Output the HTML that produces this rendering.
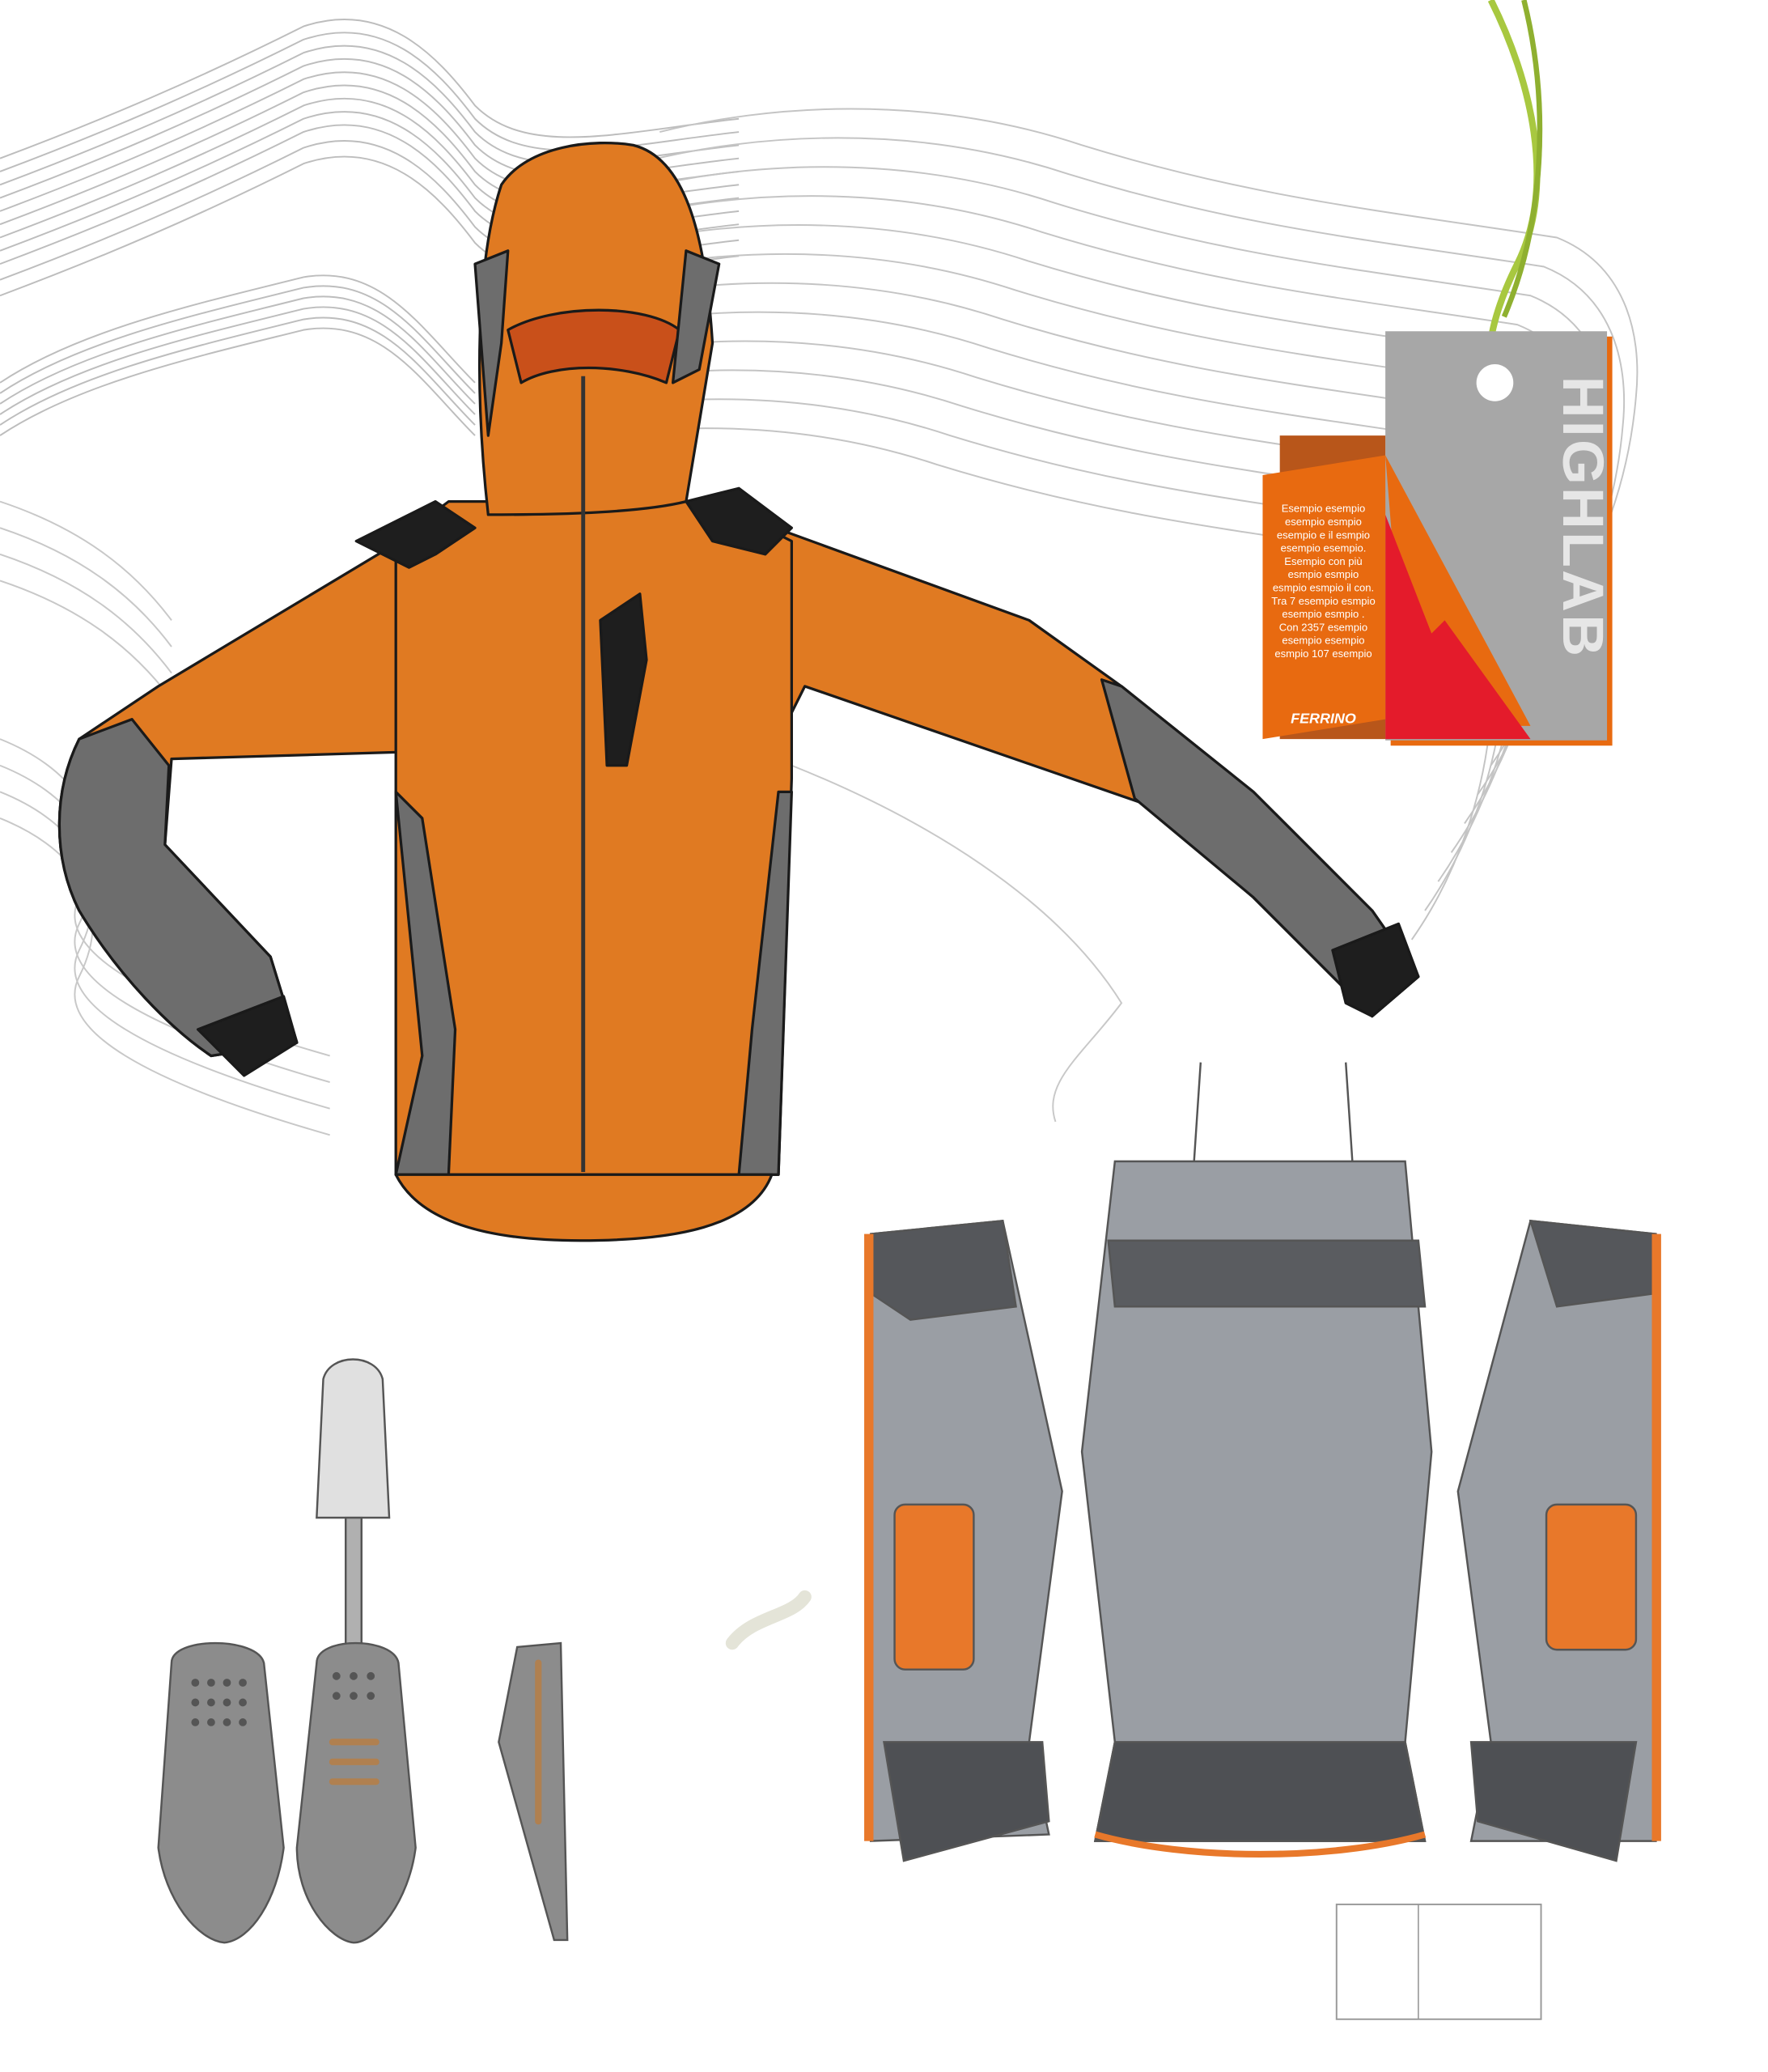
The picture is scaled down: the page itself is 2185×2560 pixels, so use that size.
<!DOCTYPE html>
<html><head><meta charset="utf-8"><style>html,body{margin:0;padding:0;background:#fff}svg{display:block}</style></head><body>
<svg width="2185" height="2560" viewBox="0 0 1340 1570" xmlns="http://www.w3.org/2000/svg" font-family="Liberation Sans, sans-serif">
<defs>
<path id="cl" d="M0,120 C80,90 150,60 230,20 C290,0 330,40 360,80 C400,120 470,100 560,90" fill="none" stroke="#bdbdbd" stroke-width="1.2"/>
<path id="cm" d="M0,290 C60,250 150,230 230,210 C290,200 320,250 360,290" fill="none" stroke="#bdbdbd" stroke-width="1.2"/>
<path id="cr" d="M500,100 C580,80 700,70 820,110 C950,150 1050,160 1180,180 C1230,200 1245,250 1240,300 C1235,360 1215,420 1180,470" fill="none" stroke="#c4c4c4" stroke-width="1.2"/>
<path id="cb" d="M0,380 C60,400 100,430 130,470 M0,560 C50,580 90,620 60,680 C40,720 110,760 250,800" fill="none" stroke="#c8c8c8" stroke-width="1.2"/>
</defs>
<g>
<use href="#cl"/><use href="#cl" transform="translate(0,10)"/><use href="#cl" transform="translate(0,20)"/><use href="#cl" transform="translate(0,30)"/><use href="#cl" transform="translate(0,40)"/><use href="#cl" transform="translate(0,50)"/><use href="#cl" transform="translate(0,60)"/><use href="#cl" transform="translate(0,70)"/><use href="#cl" transform="translate(0,80)"/><use href="#cl" transform="translate(0,92)"/><use href="#cl" transform="translate(0,104)"/>
<use href="#cm"/><use href="#cm" transform="translate(0,8)"/><use href="#cm" transform="translate(0,16)"/><use href="#cm" transform="translate(0,24)"/><use href="#cm" transform="translate(0,32)"/><use href="#cm" transform="translate(0,40)"/>
<use href="#cr"/><use href="#cr" transform="translate(-10,22)"/><use href="#cr" transform="translate(-20,44)"/><use href="#cr" transform="translate(-30,66)"/><use href="#cr" transform="translate(-40,88)"/><use href="#cr" transform="translate(-50,110)"/><use href="#cr" transform="translate(-60,132)"/><use href="#cr" transform="translate(-70,154)"/><use href="#cr" transform="translate(-80,176)"/><use href="#cr" transform="translate(-90,198)"/><use href="#cr" transform="translate(-100,220)"/><use href="#cr" transform="translate(-110,242)"/>
<use href="#cb"/><use href="#cb" transform="translate(0,20)"/><use href="#cb" transform="translate(0,40)"/><use href="#cb" transform="translate(0,60)"/>
<path d="M600,580 C700,620 800,680 850,760 C820,800 790,820 800,850" fill="none" stroke="#c8c8c8" stroke-width="1.2"/>
</g>
<!-- front jacket -->
<g stroke="#1a1a1a" stroke-width="2" stroke-linejoin="round">
<!-- left sleeve -->
<path d="M320,400 L120,520 L60,560 C40,600 40,650 60,690 C90,740 130,780 160,800 L225,790 L205,725 L125,640 L130,575 L300,570 Z" fill="#e07a22"/>
<path d="M100,545 L60,560 C40,600 40,650 60,690 C90,740 130,780 160,800 L225,790 L205,725 L125,640 L128,580 Z" fill="#6d6d6d"/>
<path d="M150,780 L215,755 L225,790 L185,815 Z" fill="#1e1e1e"/>
<!-- right sleeve -->
<path d="M560,390 L780,470 L850,520 L950,600 L1040,690 L1075,740 L1040,770 L990,720 L950,680 L870,610 L610,520 L600,540 Z" fill="#e07a22"/>
<path d="M835,515 L850,520 L950,600 L1040,690 L1075,740 L1040,770 L990,720 L950,680 L860,605 Z" fill="#6d6d6d"/>
<path d="M1010,720 L1060,700 L1075,740 L1040,770 L1020,760 Z" fill="#1e1e1e"/>
<!-- body -->
<path d="M340,380 L540,380 L600,410 L600,590 L590,890 L300,890 L300,570 L300,410 Z" fill="#e07a22"/>
<path d="M300,600 L320,800 L300,890 L340,890 L345,780 L320,620 Z M590,600 L570,780 L560,890 L590,890 L600,600 Z" fill="#6d6d6d"/>
<path d="M300,890 C320,930 380,940 440,940 C510,940 570,930 585,890 Z" fill="#e07a22"/>
<path d="M370,390 C360,300 360,200 380,140 C400,110 450,105 480,110 C520,120 535,180 540,260 L520,380 C480,390 400,390 370,390 Z" fill="#e07a22"/>
<path d="M385,250 C420,230 490,230 515,250 L505,290 C470,275 420,275 395,290 Z" fill="#c9501a"/>
<path d="M360,200 L385,190 L380,260 L370,330 Z M520,190 L545,200 L530,280 L510,290 Z" fill="#6d6d6d"/>
<path d="M270,410 L330,380 L360,400 L330,420 L310,430 Z M520,380 L560,370 L600,400 L580,420 L540,410 Z" fill="#1e1e1e"/>
<path d="M455,470 L485,450 L490,500 L475,580 L460,580 Z" fill="#1e1e1e"/>
</g>
<line x1="442" y1="285" x2="442" y2="888" stroke="#333" stroke-width="3"/>
<!-- hang tag -->
<path d="M1130,0 C1160,60 1180,140 1150,200 C1130,240 1125,270 1130,300" fill="none" stroke="#a8c840" stroke-width="5"/>
<path d="M1155,0 C1175,80 1170,170 1140,240" fill="none" stroke="#8fb030" stroke-width="4"/>
<rect x="1054" y="255" width="168" height="310" fill="#e86a10"/>
<rect x="1050" y="251" width="168" height="310" fill="#a7a7a7"/>
<circle cx="1133" cy="290" r="14" fill="#fff"/>
<path d="M1050,345 L1160,550 L1100,550 L1060,470 Z" fill="#e86a10"/>
<path d="M1050,390 L1085,480 L1095,470 L1160,560 L1050,560 Z" fill="#e41b2b"/>
<text transform="translate(1185,285) rotate(90)" font-size="44" font-weight="bold" fill="#e6e6e6" letter-spacing="2">HIGHLAB</text>
<path d="M970,330 L1050,330 L1050,560 L970,560 Z" fill="#b8561a"/>
<path d="M957,360 L1050,345 L1050,545 L957,560 Z" fill="#e86a10"/>
<g fill="#fff" font-size="8" text-anchor="middle"><text x="1003" y="388">Esempio esempio</text><text x="1003" y="398">esempio esmpio</text><text x="1003" y="408">esempio e il esmpio</text><text x="1003" y="418">esempio esempio.</text><text x="1003" y="428">Esempio con  più</text><text x="1003" y="438">esmpio esmpio</text><text x="1003" y="448">esmpio esmpio il con.</text><text x="1003" y="458">Tra 7 esempio esmpio</text><text x="1003" y="468">esempio esmpio .</text><text x="1003" y="478">Con 2357 esempio</text><text x="1003" y="488">esempio esempio</text><text x="1003" y="498">esmpio 107 esempio</text><text x="1003" y="548" font-size="11" font-weight="bold" font-style="italic">FERRINO</text></g>
<!-- back view -->
<g stroke="#555" stroke-width="1.5">
<path d="M910,805 L905,880 M1020,805 L1025,880" fill="none"/>
<path d="M845,880 L1065,880 L1085,1100 L1065,1320 L1080,1395 L830,1395 L845,1320 L820,1100 Z" fill="#9a9ea4"/>
<path d="M840,940 L1075,940 L1080,990 L845,990 Z" fill="#5a5c60"/>
<path d="M845,1320 L1065,1320 L1080,1395 L830,1395 Z" fill="#4e5054"/>
<path d="M660,935 L760,925 L805,1130 L780,1320 L795,1390 L660,1395 Z" fill="#9a9ea4"/>
<path d="M1160,925 L1255,935 L1255,1395 L1115,1395 L1130,1320 L1105,1130 Z" fill="#9a9ea4"/>
<path d="M660,935 L760,925 L770,990 L690,1000 L660,980 Z M1160,925 L1255,935 L1255,980 L1180,990 Z" fill="#55575b"/>
<path d="M670,1320 L790,1320 L795,1380 L685,1410 Z M1115,1320 L1240,1320 L1225,1410 L1120,1380 Z" fill="#4e5054"/>
<rect x="678" y="1140" width="60" height="125" rx="8" fill="#e8782a"/>
<rect x="1172" y="1140" width="68" height="110" rx="8" fill="#e8782a"/>
</g>
<rect x="655" y="935" width="7" height="460" fill="#e8782a"/><rect x="1252" y="935" width="7" height="460" fill="#e8782a"/>
<path d="M830,1390 C900,1410 1010,1410 1080,1390" stroke="#e8782a" stroke-width="5" fill="none"/>
<path d="M555,1245 C570,1225 600,1225 610,1210" fill="none" stroke="#e4e4d8" stroke-width="10" stroke-linecap="round"/>
<!-- zipper pulls -->
<g stroke="#555" stroke-width="1.5">
<path d="M245,1045 C250,1025 285,1025 290,1045 L295,1150 L240,1150 Z" fill="#e0e0e0"/>
<rect x="262" y="1150" width="12" height="100" fill="#b0b0b0"/>
<path d="M130,1260 C130,1240 195,1240 200,1260 L215,1400 C210,1440 190,1470 170,1472 C150,1470 125,1440 120,1400 Z" fill="#8c8c8c"/>
<path d="M240,1260 C240,1240 298,1240 302,1260 L315,1400 C310,1440 285,1472 268,1472 C250,1470 225,1440 225,1400 Z" fill="#8c8c8c"/>
<path d="M392,1248 L425,1245 L430,1470 L420,1470 L378,1320 Z" fill="#8c8c8c"/>
</g>
<g fill="#555"><circle cx="148" cy="1275" r="3"/><circle cx="160" cy="1275" r="3"/><circle cx="172" cy="1275" r="3"/><circle cx="184" cy="1275" r="3"/><circle cx="148" cy="1290" r="3"/><circle cx="160" cy="1290" r="3"/><circle cx="172" cy="1290" r="3"/><circle cx="184" cy="1290" r="3"/><circle cx="148" cy="1305" r="3"/><circle cx="160" cy="1305" r="3"/><circle cx="172" cy="1305" r="3"/><circle cx="184" cy="1305" r="3"/>
<circle cx="255" cy="1270" r="3"/><circle cx="268" cy="1270" r="3"/><circle cx="281" cy="1270" r="3"/><circle cx="255" cy="1285" r="3"/><circle cx="268" cy="1285" r="3"/><circle cx="281" cy="1285" r="3"/></g>
<g stroke="#b08050" stroke-width="5" stroke-linecap="round"><line x1="252" y1="1320" x2="285" y2="1320"/><line x1="252" y1="1335" x2="285" y2="1335"/><line x1="252" y1="1350" x2="285" y2="1350"/><line x1="408" y1="1260" x2="408" y2="1380"/></g>
<rect x="1013" y="1443" width="155" height="87" fill="#fff" stroke="#999" stroke-width="1.2"/>
<line x1="1075" y1="1443" x2="1075" y2="1530" stroke="#999"/>
</svg>
</body></html>
